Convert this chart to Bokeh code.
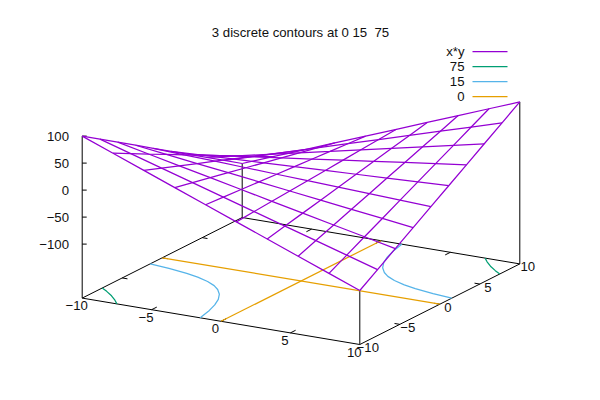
from bokeh.plotting import figure
from bokeh.models import Range1d
from bokeh.core.properties import value
from bokeh.embed import file_html
from bokeh.resources import INLINE

TITLE = "3 discrete contours at 0 15\u00a0 75"
FONT = "Liberation Sans"
M = "\u2212"

# Surface samples of x*y (10 isosamples per axis)
grid = [-10, -7.78, -5.56, -3.33, -1.11, 1.11, 3.33, 5.56, 7.78, 10]
surface_z = [
    [100, 77.8, 55.6, 33.3, 11.1, -11.1, -33.3, -55.6, -77.8, -100],
    [77.8, 60.5, 43.2, 25.9, 8.6, -8.6, -25.9, -43.2, -60.5, -77.8],
    [55.6, 43.2, 30.9, 18.5, 6.2, -6.2, -18.5, -30.9, -43.2, -55.6],
    [33.3, 25.9, 18.5, 11.1, 3.7, -3.7, -11.1, -18.5, -25.9, -33.3],
    [11.1, 8.6, 6.2, 3.7, 1.2, -1.2, -3.7, -6.2, -8.6, -11.1],
    [-11.1, -8.6, -6.2, -3.7, -1.2, 1.2, 3.7, 6.2, 8.6, 11.1],
    [-33.3, -25.9, -18.5, -11.1, -3.7, 3.7, 11.1, 18.5, 25.9, 33.3],
    [-55.6, -43.2, -30.9, -18.5, -6.2, 6.2, 18.5, 30.9, 43.2, 55.6],
    [-77.8, -60.5, -43.2, -25.9, -8.6, 8.6, 25.9, 43.2, 60.5, 77.8],
    [-100, -77.8, -55.6, -33.3, -11.1, 11.1, 33.3, 55.6, 77.8, 100],
]

# Contours on the base plane
c0_a_x = [0, 0]
c0_a_y = [-10, 10]
c0_b_x = [-10, 10]
c0_b_y = [0, 0]
c15_x = [-10, -8.5, -7, -6, -5, -4.2, -3.6, -3, -2.5, -2.1, -1.8, -1.5]
c15_y = [-1.5, -1.76, -2.14, -2.5, -3, -3.57, -4.17, -5, -6, -7.14, -8.33, -10]
c75_x = [-10, -9.4, -8.66, -8, -7.5]
c75_y = [-7.5, -7.98, -8.66, -9.38, -10]

x_ticks = [-10, -5, 0, 5, 10]
y_ticks = [-10, -5, 0, 5, 10]
z_ticks = [100, 50, 0, -50, -100]
tick_labels = [M + "10", M + "5", "0", "5", "10"]
z_labels = ["100", "50", "0", M + "50", M + "100"]
legend_labels = ["x*y", "75", "15", "0"]

PURPLE, GREEN, BLUE, ORANGE = "#9400D3", "#009E73", "#56B4E9", "#E69F00"
legend_colors = [PURPLE, GREEN, BLUE, ORANGE]
Z_BASE = -200
LW = 1.25

def proj(x, y, z=Z_BASE):
    return (300.5 + 13.88 * x + 8.0 * y,
            280.5 + 2.32 * x - 4.03 * y - 0.54 * (z - Z_BASE))

p = figure(width=584, height=384, output_backend="svg", toolbar_location=None,
           x_range=Range1d(0, 584), y_range=Range1d(384, 0), min_border=0,
           outline_line_color=None)
p.xaxis.visible = False
p.yaxis.visible = False
p.xgrid.visible = False
p.ygrid.visible = False

def poly(xs, ys, zs=None, color="black", w=1.0):
    zs = zs if zs is not None else [Z_BASE] * len(xs)
    pts = [proj(a, b, c) for a, b, c in zip(xs, ys, zs)]
    p.line([q[0] for q in pts], [q[1] for q in pts], line_color=color, line_width=w)

# Border of the base and verticals to the surface corners
poly([-10, 10, 10, -10, -10], [-10, -10, 10, 10, -10])
for cx, cy, cz in [(-10, -10, 100), (10, -10, -100), (10, 10, 100), (-10, 10, -100)]:
    poly([cx, cx], [cy, cy], [Z_BASE, cz])

# Tick marks (inward, mirrored on the opposite edge)
TLY = 0.65
TLX = 0.38
for t in x_ticks[1:-1]:
    poly([t, t], [-10, -10 + TLY])
    poly([t, t], [10, 10 - TLY])
for t in y_ticks[1:-1]:
    poly([10, 10 - TLX], [t, t])
    poly([-10, -10 + TLX], [t, t])
for z in z_ticks:
    a, b = proj(-10, -10, z)
    p.line([a, a + 4.5], [b, b], line_color="black", line_width=1)

# Contours
poly(c75_x, c75_y, color=GREEN, w=LW)
poly([-a for a in c75_x], [-b for b in c75_y], color=GREEN, w=LW)
poly(c15_x, c15_y, color=BLUE, w=LW)
poly([-a for a in c15_x], [-b for b in c15_y], color=BLUE, w=LW)
poly(c0_a_x, c0_a_y, color=ORANGE, w=LW)
poly(c0_b_x, c0_b_y, color=ORANGE, w=LW)

# Surface mesh
for i, gx in enumerate(grid):
    poly([gx] * 10, grid, surface_z[i], color=PURPLE, w=LW)
    poly(grid, [gx] * 10, [row[i] for row in surface_z], color=PURPLE, w=LW)

def label(x, y, s, align="center"):
    p.text([x], [y], text=[s], text_font=value(FONT), text_font_size="13.2px",
           text_color="#111111", text_align=align, text_baseline="middle")

label(300, 31.5, TITLE)

# Tick labels
for t, s in zip(x_ticks, tick_labels):
    a, b = proj(t, -10)
    label(a - 5.5, b + 7.5, s)
for t, s in zip(y_ticks, tick_labels):
    a, b = proj(10, t)
    label(a + 8, b + 3, s)
for z, s in zip(z_ticks, z_labels):
    a, b = proj(-10, -10, z)
    label(68.5, b, s, "right")

# Legend
for i, (s, c) in enumerate(zip(legend_labels, legend_colors)):
    yy = 51 + 15 * i
    label(464, yy, s, "right")
    p.line([472, 507], [yy, yy], line_color=c, line_width=LW)

open("out.html", "w").write(file_html(p, INLINE))
